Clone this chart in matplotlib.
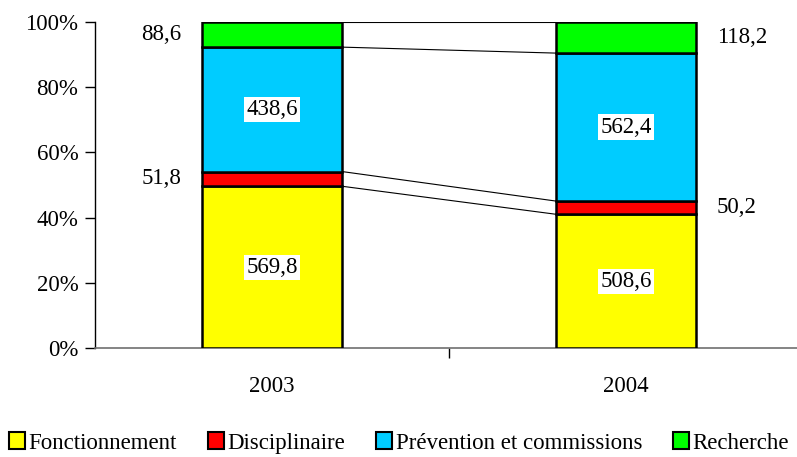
import matplotlib
matplotlib.use("Agg")
import matplotlib.pyplot as plt
from matplotlib.patches import Patch
import numpy as np

years = ["2003", "2004"]
series = ["Fonctionnement", "Disciplinaire", "Prévention et commissions", "Recherche"]
values = {
    "Fonctionnement": [569.8, 508.6],
    "Disciplinaire": [51.8, 50.2],
    "Prévention et commissions": [438.6, 562.4],
    "Recherche": [88.6, 118.2],
}
colors = ["#FFFF00", "#FF0000", "#00CCFF", "#00FF00"]
yticks = [0, 20, 40, 60, 80, 100]

plt.rcParams["font.family"] = ["Liberation Serif", "DejaVu Serif"]
FS = 16.5
W, H = 797, 457
fig = plt.figure(figsize=(W / 100, H / 100), dpi=100)
ax = fig.add_axes([95 / W, (H - 348) / H, (797 - 95) / W, (348 - 22) / H])

x = np.arange(len(years))
totals = np.sum([values[s] for s in series], axis=0)
bw = 0.398
bottom = np.zeros(len(years))
tops = []
for s, c in zip(series, colors):
    pct = np.array(values[s]) / totals * 100
    ax.bar(x, pct, bw, bottom=bottom, color=c, edgecolor="black", linewidth=1.8, zorder=3)
    for i in range(len(years)):
        cy = bottom[i] + pct[i] / 2
        txt = f"{values[s][i]:.1f}".replace(".", ",")
        if pct[i] > 20:
            ax.text(x[i], cy, txt, ha="center", va="center", fontsize=FS, zorder=5,
                    bbox=dict(facecolor="white", edgecolor="none", pad=1.5))
        else:
            if i == 0:
                ax.text(x[i] - bw / 2 - 0.057, cy, txt, ha="right", va="center", fontsize=FS)
            else:
                ax.text(x[i] + bw / 2 + 0.057, cy, txt, ha="left", va="center", fontsize=FS)
    bottom = bottom + pct
    tops.append(bottom.copy())

# series lines
for t in tops:
    ax.plot([x[0] + bw / 2, x[1] - bw / 2], [t[0], t[1]], color="black", lw=0.8, zorder=2)

ax.set_xlim(-0.5, 1.483)
ax.set_ylim(0, 100)
ax.set_yticks(yticks)
ax.set_yticklabels([f"{v}%" for v in yticks], fontsize=FS)
ax.set_xticks(x)
ax.set_xticklabels(years, fontsize=FS)
ax.tick_params(axis="x", length=0, pad=20)
ax.set_xticks([0.5], minor=True)
ax.tick_params(axis="x", which="minor", length=7, width=1, direction="out", color="black")
ax.tick_params(axis="y", length=7, width=1, direction="out", pad=5)
for sp in ["top", "right"]:
    ax.spines[sp].set_visible(False)
ax.spines["left"].set_color("black")
ax.spines["left"].set_linewidth(1)
ax.spines["bottom"].set_color("#707070")
ax.spines["bottom"].set_linewidth(1.2)
ax.spines["left"].set_bounds(0, 100)

handles = [Patch(facecolor=c, edgecolor="black", linewidth=1.5) for c in colors]
fig.legend(handles, series, loc="center", bbox_to_anchor=(399 / W, (H - 443) / H), ncol=4,
           frameon=False, fontsize=FS, handlelength=0.7, handleheight=0.7,
           handletextpad=0.15, columnspacing=1.35, borderaxespad=0, borderpad=0)

fig.savefig("out.png", dpi=100)
